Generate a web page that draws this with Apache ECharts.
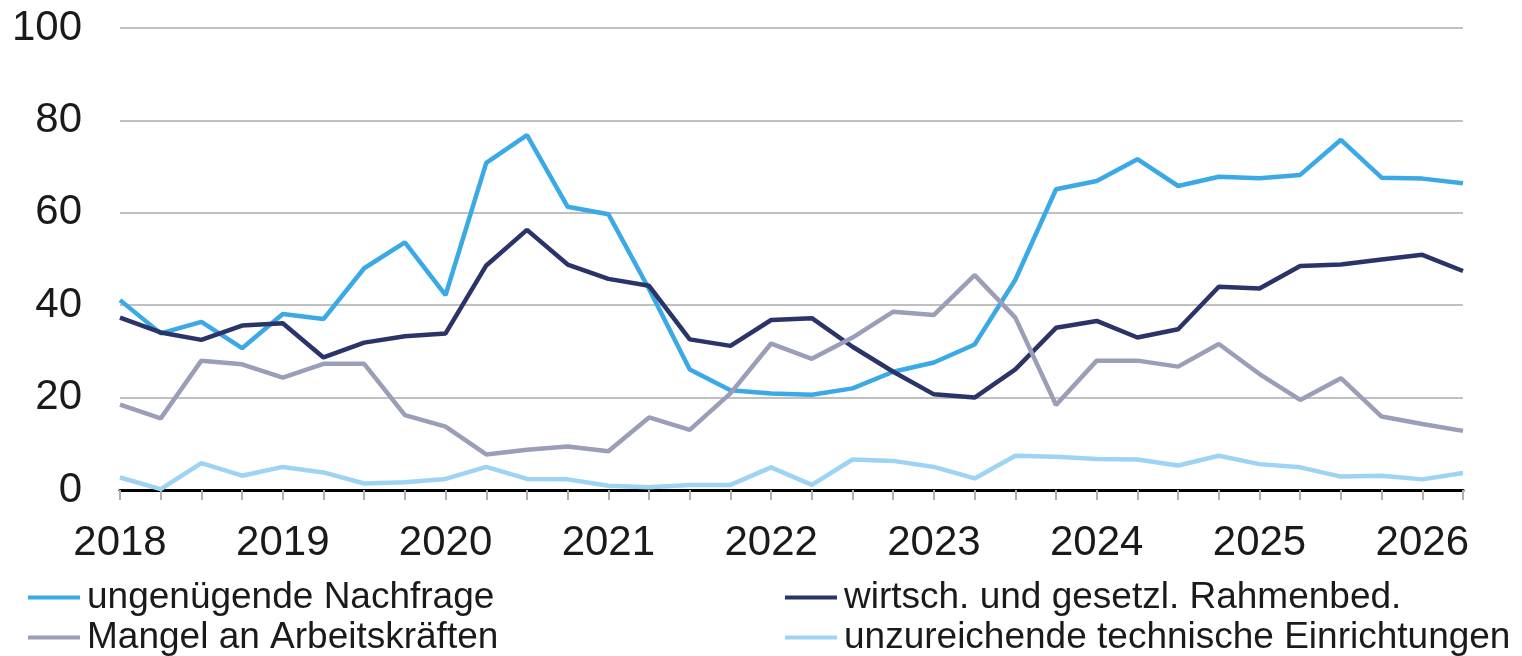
<!DOCTYPE html>
<html>
<head>
<meta charset="utf-8">
<script src="https://cdn.jsdelivr.net/npm/echarts@6/dist/echarts.min.js"></script>
<style>
html,body{margin:0;padding:0;background:#fff;}
#chart{width:1522px;height:656px;}
</style>
</head>
<body>
<div id="chart"></div>
<script>
const quarters = [];
for (let y = 2018; y <= 2026; y++) {
  for (let q = 1; q <= 4; q++) {
    if (y === 2026 && q > 2) break;
    quarters.push(y + ' Q' + q);
  }
}
const seriesNames = [
  'ungenügende Nachfrage',
  'wirtsch. und gesetzl. Rahmenbed.',
  'Mangel an Arbeitskräften',
  'unzureichende technische Einrichtungen'
];
const nachfrage = [41.1,33.9,36.4,30.7,38.1,37.0,48.0,53.6,42.2,70.8,76.8,61.3,59.7,43.5,26.1,21.6,20.9,20.6,22.0,25.6,27.6,31.5,45.5,65.1,66.9,71.6,65.8,67.8,67.5,68.2,75.8,67.6,67.4,66.4];
const rahmenbed = [37.3,34.1,32.5,35.6,36.1,28.7,31.9,33.3,33.9,48.6,56.3,48.8,45.7,44.2,32.6,31.2,36.8,37.2,31.0,25.6,20.7,20.0,26.1,35.1,36.6,33.0,34.8,44.0,43.6,48.5,48.8,49.9,50.9,47.4];
const arbeitskraefte = [18.5,15.5,28.0,27.2,24.3,27.3,27.3,16.2,13.7,7.7,8.7,9.4,8.4,15.7,13.0,20.9,31.7,28.4,33.0,38.6,37.9,46.5,37.3,18.4,28.0,28.0,26.7,31.6,25.1,19.5,24.2,15.9,14.3,12.8];
const technik = [2.7,0.2,5.8,3.1,5.0,3.8,1.4,1.7,2.4,5.0,2.4,2.3,0.9,0.6,1.1,1.1,4.9,1.1,6.6,6.3,5.0,2.5,7.4,7.2,6.7,6.6,5.3,7.4,5.6,4.9,2.9,3.1,2.3,3.7];
const yTicks = {min: 0, max: 100, interval: 20};

const colors = ['#3AA9E5', '#2B3468', '#9A9EB8', '#9DD4F4'];
const dataSets = [nachfrage, rahmenbed, arbeitskraefte, technik];
const FONT = '"Liberation Sans", Arial, sans-serif';

const chart = echarts.init(document.getElementById('chart'), null, {renderer: 'canvas'});
function legendCfg(left, names) {
  return {
    orient: 'vertical',
    left: left,
    top: 579,
    height: 77,
    width: 740,
    padding: 0,
    itemWidth: 52,
    itemHeight: 4,
    itemGap: 3,
    icon: 'rect',
    data: names,
    textStyle: {fontFamily: FONT, fontSize: 37, lineHeight: 37, color: '#1a1a1a', padding: [0,0,0,2]}
  };
}
chart.setOption({
  animation: false,
  backgroundColor: '#ffffff',
  grid: {left: 120, right: 59, top: 28, bottom: 166, containLabel: false},
  legend: [
    legendCfg(28, [seriesNames[0], seriesNames[2]]),
    legendCfg(785, [seriesNames[1], seriesNames[3]])
  ],
  xAxis: {
    type: 'category',
    data: quarters,
    boundaryGap: false,
    axisLine: {lineStyle: {color: '#000', width: 3}},
    axisTick: {show: true, interval: 0, length: 10, lineStyle: {color: '#b0b0b0', width: 2}},
    axisLabel: {
      interval: 3,
      margin: 32,
      fontFamily: FONT,
      fontSize: 42,
      color: '#1a1a1a',
      formatter: v => v.slice(0, 4)
    },
    splitLine: {show: false}
  },
  yAxis: {
    type: 'value',
    min: yTicks.min,
    max: yTicks.max,
    interval: yTicks.interval,
    axisLine: {show: false},
    axisTick: {show: false},
    axisLabel: {margin: 38, fontFamily: FONT, fontSize: 42, color: '#1a1a1a'},
    splitLine: {lineStyle: {color: '#c0c0c0', width: 2}}
  },
  series: dataSets.map((d, i) => ({
    name: seriesNames[i],
    type: 'line',
    data: d,
    symbol: 'none',
    color: colors[i],
    lineStyle: {width: 4.5, color: colors[i]},
    z: 3
  }))
});
</script>
</body>
</html>
